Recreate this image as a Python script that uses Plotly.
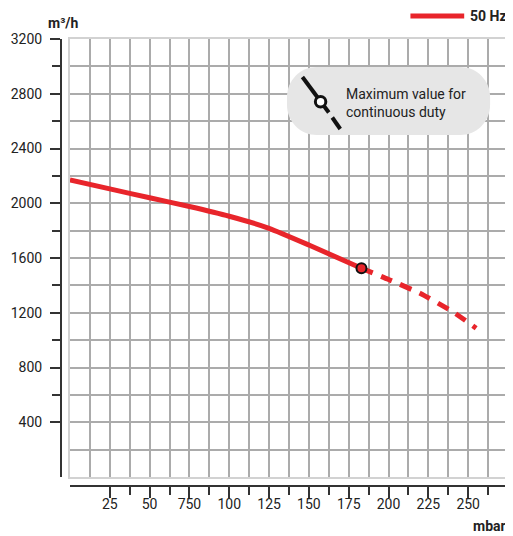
import plotly.graph_objects as go

# ---- data ----
pressure_solid = [0, 25, 50, 75, 100, 125, 150, 183]
flow_solid = [2170, 2105, 2040, 1976, 1905, 1817, 1695, 1525]
pressure_dashed = [183, 200, 220, 240, 255]
flow_dashed = [1525, 1443, 1341, 1210, 1087]
limit_pressure = [183]
limit_flow = [1525]

x_tick_vals = [25, 50, 75, 100, 125, 150, 175, 200, 225, 250]
x_tick_text = ["25", "50", "750", "100", "125", "150", "175", "200", "225", "250"]
x_minor_vals = [37.5, 62.5, 87.5, 112.5, 137.5, 162.5, 187.5, 212.5, 237.5, 262.5]
y_tick_vals = [400, 800, 1200, 1600, 2000, 2400, 2800, 3200]
y_tick_text = ["400", "800", "1200", "1600", "2000", "2400", "2800", "3200"]
y_minor_vals = [600, 1000, 1400, 1800, 2200, 2600, 3000]

series_name = "50 Hz"
x_title = "mbar"
y_title = "m³/h"
note_text = "Maximum value for<br>continuous duty"

# ---- styling ----
RED = "#e8252b"
GRID = "#ababab"
BORDER = "#d2d2d2"
AX = "#333333"
TXT = "#222222"
FONT = "Roboto, sans-serif"

# the page body has an 8px margin, so the figure is offset by 8px
OFF = 8
W, H = 513 - OFF, 536 - OFF
# margins expressed in reference-page pixels
L_AX, R_EDGE, T_EDGE, B_AX = 61, 510, 39, 486
ML = L_AX - OFF
MR = W - (R_EDGE - OFF)
MT = T_EDGE - OFF
MB = H - (B_AX - OFF)
PW = W - ML - MR
PH = H - MT - MB


def px(x):
    """reference page pixel x -> paper fraction"""
    return (x - OFF - ML) / PW


def py(y):
    """reference page pixel y -> paper fraction"""
    return (H - MB - (y - OFF)) / PH


fig = go.Figure()
fig.add_trace(go.Scatter(
    x=pressure_solid, y=flow_solid, mode="lines",
    line=dict(color=RED, width=5, shape="spline", smoothing=0.5),
    hoverinfo="skip", showlegend=False))
fig.add_trace(go.Scatter(
    x=pressure_dashed, y=flow_dashed, mode="lines",
    line=dict(color=RED, width=5, dash="12px,9px", shape="spline", smoothing=0.5),
    hoverinfo="skip", showlegend=False))
fig.add_trace(go.Scatter(
    x=limit_pressure, y=limit_flow, mode="markers",
    marker=dict(size=10, color=RED, line=dict(color="#111111", width=2)),
    hoverinfo="skip", showlegend=False))
# dummy trace so the overlay (tick) axes render
fig.add_trace(go.Scatter(x=[None], y=[None], xaxis="x2", yaxis="y2",
                         showlegend=False, hoverinfo="skip"))


def rounded_path(x0, y0, x1, y1, r):
    k = 0.5523 * r
    P = lambda x, y: f"{px(x):.5f},{py(y):.5f}"
    s = f"M {P(x0 + r, y0)} L {P(x1 - r, y0)} "
    s += f"C {P(x1 - r + k, y0)} {P(x1, y0 + r - k)} {P(x1, y0 + r)} "
    s += f"L {P(x1, y1 - r)} "
    s += f"C {P(x1, y1 - r + k)} {P(x1 - r + k, y1)} {P(x1 - r, y1)} "
    s += f"L {P(x0 + r, y1)} "
    s += f"C {P(x0 + r - k, y1)} {P(x0, y1 - r + k)} {P(x0, y1 - r)} "
    s += f"L {P(x0, y0 + r)} "
    s += f"C {P(x0, y0 + r - k)} {P(x0 + r - k, y0)} {P(x0 + r, y0)} Z"
    return s


shapes = [
    # legend key line
    dict(type="line", xref="paper", yref="paper",
         x0=px(412), x1=px(466), y0=py(16), y1=py(16),
         line=dict(color=RED, width=5)),
    # note box
    dict(type="path", xref="paper", yref="paper",
         path=rounded_path(288, 67, 492, 135, 30),
         fillcolor="#e6e6e6", line=dict(width=0)),
    # icon: solid part
    dict(type="line", xref="paper", yref="paper",
         x0=px(303.5), y0=py(77), x1=px(330), y1=py(112.5),
         line=dict(color="#111111", width=4)),
    # icon: dash part
    dict(type="line", xref="paper", yref="paper",
         x0=px(333.5), y0=py(117.5), x1=px(341.5), y1=py(129),
         line=dict(color="#111111", width=4)),
    # icon: circle
    dict(type="circle", xref="paper", yref="paper",
         x0=px(316.5), x1=px(327), y0=py(96.5), y1=py(107),
         fillcolor="white", line=dict(color="#111111", width=3)),
]

annotations = [
    dict(text=f"<b>{y_title}</b>", xref="paper", yref="paper",
         x=px(63.5), y=py(23), xanchor="center", yanchor="middle",
         showarrow=False, font=dict(family=FONT, size=14, color=TXT)),
    dict(text=f"<b>{series_name}</b>", xref="paper", yref="paper",
         x=px(470), y=py(16), xanchor="left", yanchor="middle",
         showarrow=False, font=dict(family=FONT, size=14, color=TXT)),
    dict(text=f"<b>{x_title}</b>", xref="paper", yref="paper",
         x=px(510), y=py(526), xanchor="right", yanchor="middle",
         showarrow=False, font=dict(family=FONT, size=14, color=TXT)),
    dict(text=note_text, xref="paper", yref="paper",
         x=px(345), y=py(102.5), xanchor="left", yanchor="middle",
         align="left", showarrow=False,
         font=dict(family=FONT, size=14, color=TXT)),
]

fig.update_layout(
    width=W, height=H,
    margin=dict(l=ML, r=MR, t=MT, b=MB, pad=0),
    paper_bgcolor="white", plot_bgcolor="white",
    font=dict(family=FONT, size=14, color=TXT),
    showlegend=False,
    xaxis=dict(domain=[px(70), 1], range=[0, 275], tick0=0, dtick=12.5,
               showgrid=True, gridcolor=GRID, gridwidth=2,
               showticklabels=False, ticks="", zeroline=False,
               showline=True, mirror=True, linecolor=BORDER, linewidth=2,
               anchor="y", fixedrange=True),
    yaxis=dict(domain=[py(477), 1], range=[0, 3200], tick0=0, dtick=200,
               showgrid=True, gridcolor=GRID, gridwidth=2,
               showticklabels=False, ticks="", zeroline=False,
               showline=True, mirror=True, linecolor=BORDER, linewidth=2,
               anchor="x", fixedrange=True),
    xaxis2=dict(overlaying="x", anchor="free", position=0,
                range=[0, 275], tickmode="array",
                tickvals=x_tick_vals, ticktext=x_tick_text,
                ticks="outside", ticklen=11, tickwidth=1.5, tickcolor=AX,
                ticklabelstandoff=-6,
                showline=True, linecolor=AX, linewidth=2,
                showgrid=False, zeroline=False,
                tickfont=dict(family=FONT, size=14, color=TXT),
                minor=dict(tickmode="array", tickvals=x_minor_vals, ticks="outside",
                           ticklen=8, tickwidth=1.5, tickcolor=AX, showgrid=False),
                fixedrange=True),
    yaxis2=dict(overlaying="y", anchor="free", position=0, side="left",
                range=[0, 3200], tickmode="array",
                tickvals=y_tick_vals, ticktext=y_tick_text,
                ticks="outside", ticklen=10, tickwidth=1.5, tickcolor=AX,
                ticklabelstandoff=5,
                showline=True, linecolor=AX, linewidth=2,
                showgrid=False, zeroline=False,
                tickfont=dict(family=FONT, size=14, color=TXT),
                minor=dict(tickmode="array", tickvals=y_minor_vals, ticks="outside",
                           ticklen=8, tickwidth=1.5, tickcolor=AX, showgrid=False),
                fixedrange=True),
    shapes=shapes,
    annotations=annotations,
)

fig.write_html("out.html")
